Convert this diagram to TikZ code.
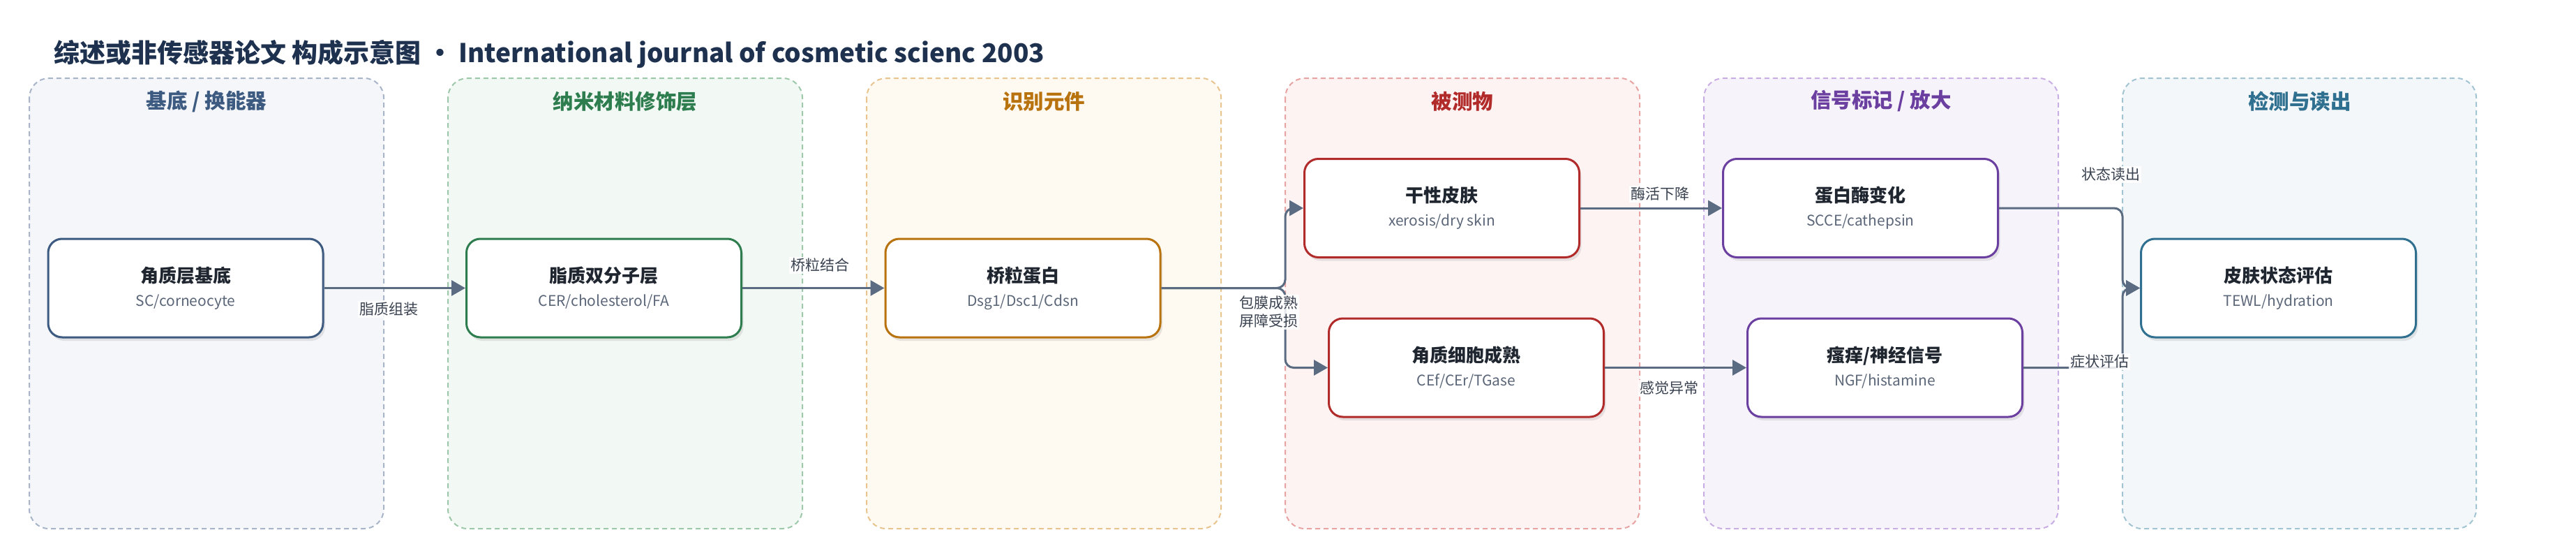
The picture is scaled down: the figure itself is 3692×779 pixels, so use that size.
\documentclass[tikz,border=0pt]{standalone}
\usepackage{fontspec}
\setmainfont{Noto Sans CJK SC}
\usepackage{xcolor}
\usetikzlibrary{arrows, arrows.meta, shadows}

\definecolor{titleblue}{HTML}{1E3250}
\definecolor{edgegray}{HTML}{5A6B82}
\definecolor{labgray}{HTML}{3A4250}
\definecolor{subgray}{HTML}{5B6678}
\definecolor{maintext}{HTML}{1F2630}
%panel colours: line, dashed border, fill
\definecolor{cA}{HTML}{3D5A80} \definecolor{bdA}{HTML}{A8B5C8} \definecolor{bgA}{HTML}{F4F6FA}
\definecolor{cB}{HTML}{2E7D4F} \definecolor{bdB}{HTML}{9EC8AA} \definecolor{bgB}{HTML}{F2F8F4}
\definecolor{cC}{HTML}{B8720E} \definecolor{bdC}{HTML}{E8C48F} \definecolor{bgC}{HTML}{FEF9F1}
\definecolor{cD}{HTML}{B22B2B} \definecolor{bdD}{HTML}{E8A3A3} \definecolor{bgD}{HTML}{FDF3F3}
\definecolor{cE}{HTML}{6B3FA0} \definecolor{bdE}{HTML}{C9AEE3} \definecolor{bgE}{HTML}{F7F3FB}
\definecolor{cF}{HTML}{2F6F8F} \definecolor{bdF}{HTML}{A3C4D2} \definecolor{bgF}{HTML}{F3F7F9}

\newcommand{\boxtext}[2]{{\fontsize{26}{34}\selectfont\bfseries\color{maintext}#1}\\{\color{subgray}#2}}

\tikzset{
  panel/.style={line width=2pt, dash pattern=on 7pt off 5pt, rounded corners=28pt},
  ptitle/.style={font=\fontsize{29.5}{34}\selectfont\bfseries},
  box/.style={fill=white, line width=3pt, rounded corners=20pt, minimum width=394pt,
    minimum height=141pt, align=center, font=\fontsize{21}{34}\selectfont,
    drop shadow={opacity=0.18, shadow xshift=3pt, shadow yshift=-5pt}},
  flow/.style={draw=edgegray, line width=3pt, rounded corners=12pt,
    -{Triangle[length=20pt,width=22pt]}},
  lab/.style={fill=white, fill opacity=0.85, text opacity=1, text=labgray, inner sep=2pt,
    align=center, font=\fontsize{21}{26}\selectfont},
}

\begin{document}
\begin{tikzpicture}[x=1pt,y=-1pt]
\useasboundingbox (0,0) rectangle (3692,779);
%title
\node[anchor=west, inner sep=0pt, text=titleblue, font=\fontsize{37}{44}\selectfont\bfseries] (title) at (77,77) {综述或非传感器论文 构成示意图 • International journal of cosmetic scienc 2003};
%panels
\draw[panel, draw=bdA, fill=bgA] (42,112) rectangle (550,757);
\draw[panel, draw=bdB, fill=bgB] (642,112) rectangle (1150,757);
\draw[panel, draw=bdC, fill=bgC] (1242,112) rectangle (1750,757);
\draw[panel, draw=bdD, fill=bgD] (1842,112) rectangle (2350,757);
\draw[panel, draw=bdE, fill=bgE] (2442,112) rectangle (2950,757);
\draw[panel, draw=bdF, fill=bgF] (3042,112) rectangle (3549,757);
\node[ptitle, text=cA] (tA) at (296,145) {基底 / 换能器};
\node[ptitle, text=cB] (tB) at (896,145) {纳米材料修饰层};
\node[ptitle, text=cC] (tC) at (1496,145) {识别元件};
\node[ptitle, text=cD] (tD) at (2096,145) {被测物};
\node[ptitle, text=cE] (tE) at (2696,145) {信号标记 / 放大};
\node[ptitle, text=cF] (tF) at (3296,145) {检测与读出};
%boxes
\node[box, draw=cA] (sc) at (266,412.5) {\boxtext{角质层基底}{SC/corneocyte}};
\node[box, draw=cB] (lipid) at (865.5,412.5) {\boxtext{脂质双分子层}{CER/cholesterol/FA}};
\node[box, draw=cC] (cdsn) at (1466,412.5) {\boxtext{桥粒蛋白}{Dsg1/Dsc1/Cdsn}};
\node[box, draw=cD] (xerosis) at (2066.5,298) {\boxtext{干性皮肤}{xerosis/dry skin}};
\node[box, draw=cD] (cornif) at (2101.5,526.5) {\boxtext{角质细胞成熟}{CEf/CEr/TGase}};
\node[box, draw=cE] (protease) at (2666.5,298) {\boxtext{蛋白酶变化}{SCCE/cathepsin}};
\node[box, draw=cE] (itch) at (2701.5,526.5) {\boxtext{瘙痒/神经信号}{NGF/histamine}};
\node[box, draw=cF] (readout) at (3265.5,412.5) {\boxtext{皮肤状态评估}{TEWL/hydration}};
%connectors
\coordinate (split) at (1842,412.5);
\coordinate (merge) at (3042,412.5);
\draw[flow] (sc.east) -- (lipid.west);
\draw[flow] (lipid.east) -- (cdsn.west);
\draw[flow] (cdsn.east) -- (split) |- (xerosis.west);
\draw[flow] (cdsn.east) -- (split) |- (cornif.west);
\draw[flow] (xerosis.east) -- (protease.west);
\draw[flow] (cornif.east) -- (itch.west);
\draw[flow] (protease.east) -| (merge) -- (readout.west);
\draw[flow] (itch.east) -| (merge) -- (readout.west);
%edge labels
\node[lab] (l1) at (557,443) {脂质组装};
\node[lab] (l2) at (1175,380) {桥粒结合};
\node[lab] (l3) at (1818,447) {包膜成熟\\屏障受损};
\node[lab] (l4) at (2379,278) {酶活下降};
\node[lab] (l5) at (2392,556) {感觉异常};
\node[lab] (l6) at (3025,250) {状态读出};
\node[lab] (l7) at (3009,518) {症状评估};
\end{tikzpicture}
\end{document}
